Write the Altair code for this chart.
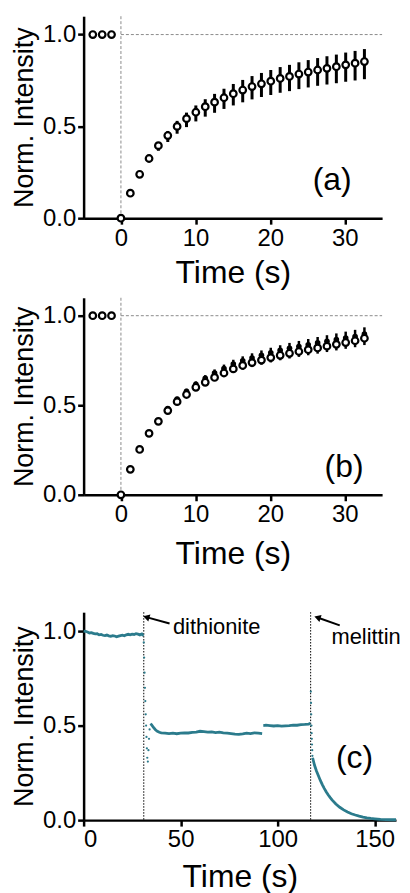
import altair as alt
import pandas as pd

FONT = "Liberation Sans"
TEAL = "#2B7B8C"

# ---------- panels (a) and (b): FRAP recovery ----------
times_ab = [-3.77, -2.51, -1.26, 0.0, 1.26, 2.51, 3.77, 5.02, 6.28, 7.53, 8.79, 10.04,
            11.30, 12.55, 13.81, 15.06, 16.32, 17.57, 18.83, 20.08, 21.34, 22.59,
            23.85, 25.10, 26.36, 27.61, 28.87, 30.12, 31.38, 32.63]

a_vals = [1.0, 1.0, 1.0, 0.0, 0.136, 0.239, 0.325, 0.395, 0.45, 0.50, 0.542, 0.577,
          0.607, 0.632, 0.656, 0.678, 0.698, 0.717, 0.732, 0.746, 0.761, 0.772,
          0.785, 0.796, 0.807, 0.816, 0.825, 0.835, 0.844, 0.853]
a_err_lo = [0, 0, 0, 0, 0.01, 0.012, 0.02, 0.028, 0.035, 0.04, 0.046, 0.05, 0.054,
            0.058, 0.061, 0.064, 0.067, 0.07, 0.072, 0.075, 0.078, 0.08, 0.082,
            0.084, 0.086, 0.088, 0.09, 0.092, 0.094, 0.096]
a_err_hi = [0, 0, 0, 0, 0.01, 0.012, 0.015, 0.02, 0.025, 0.03, 0.033, 0.037, 0.041,
            0.045, 0.049, 0.053, 0.055, 0.057, 0.059, 0.061, 0.062, 0.063, 0.064,
            0.065, 0.065, 0.066, 0.066, 0.067, 0.067, 0.068]

b_open = [1.0, 1.0, 1.0, 0.0, 0.142, 0.253, 0.343, 0.41, 0.47, 0.52, 0.56, 0.60,
          0.628, 0.655, 0.68, 0.703, 0.722, 0.738, 0.752, 0.766, 0.779, 0.79, 0.80,
          0.81, 0.82, 0.83, 0.84, 0.85, 0.86, 0.874]
b_open_err = [0, 0, 0, 0, 0, 0, 0, 0, 0.008, 0.01, 0.012, 0.014, 0.016, 0.018, 0.02,
              0.022, 0.024, 0.025, 0.026, 0.027, 0.028, 0.029, 0.03, 0.031, 0.032,
              0.033, 0.034, 0.035, 0.036, 0.038]
b_fill = [1.0, 1.0, 1.0, 0.0, 0.142, 0.253, 0.343, 0.41, 0.482, 0.535, 0.578, 0.617,
          0.65, 0.68, 0.705, 0.73, 0.748, 0.764, 0.779, 0.793, 0.806, 0.818, 0.828,
          0.838, 0.848, 0.857, 0.866, 0.875, 0.884, 0.897]
b_fill_err = [0, 0, 0, 0, 0, 0, 0, 0, 0.01, 0.012, 0.014, 0.016, 0.018, 0.02, 0.022,
              0.024, 0.025, 0.026, 0.027, 0.028, 0.029, 0.03, 0.031, 0.032, 0.033,
              0.034, 0.035, 0.036, 0.037, 0.038]

# ---------- panel (c): trace ----------
c_seg1_t = [0, 1, 2, 3, 4, 5, 6, 7, 8, 9, 10, 11, 12, 13, 14, 15, 16, 17, 18, 19, 20,
            21, 22, 23, 24, 25, 26, 27, 28, 29, 30, 30.8]
c_seg1_v = [1.0, 0.998, 0.995, 0.99, 0.992, 0.988, 0.985, 0.986, 0.98, 0.982, 0.978,
            0.976, 0.979, 0.975, 0.972, 0.976, 0.974, 0.97, 0.973, 0.976, 0.978, 0.975,
            0.98, 0.983, 0.98, 0.984, 0.982, 0.986, 0.984, 0.98, 0.985, 0.975]
c_seg2_t = [34.4, 35, 36, 37, 38, 39, 40, 42, 44, 46, 48, 50, 52, 54, 56, 58, 60, 62,
            64, 66, 68, 70, 72, 74, 76, 78, 80, 82, 84, 86, 88, 90, 92]
c_seg2_v = [0.51, 0.505, 0.49, 0.478, 0.47, 0.465, 0.462, 0.46, 0.458, 0.46, 0.457,
            0.46, 0.462, 0.461, 0.464, 0.466, 0.47, 0.468, 0.466, 0.467, 0.463, 0.465,
            0.462, 0.46, 0.458, 0.455, 0.454, 0.456, 0.46, 0.458, 0.462, 0.46, 0.458]
c_seg3_t = [92.6, 94, 96, 98, 100, 102, 104, 106, 108, 110, 112, 114, 116, 116.9]
c_seg3_v = [0.5, 0.502, 0.5, 0.498, 0.5, 0.497, 0.499, 0.5, 0.503, 0.502, 0.505,
            0.506, 0.508, 0.512]
c_seg4_t = [118, 118.5, 119, 120, 121, 122, 123, 124, 125, 126, 127, 128, 130, 132,
            134, 136, 138, 140, 142, 144, 146, 148, 150, 153, 156, 159, 161]
c_seg4_v = [0.33, 0.31, 0.29, 0.26, 0.235, 0.21, 0.188, 0.168, 0.15, 0.134, 0.12,
            0.107, 0.085, 0.068, 0.054, 0.043, 0.034, 0.027, 0.021, 0.016, 0.012,
            0.009, 0.007, 0.004, 0.003, 0.002, 0.002]
c_dots_t = [31.0, 31.2, 31.4, 31.6, 31.8, 32.0, 32.2, 32.4, 32.6, 32.8, 33.1, 33.4,
            33.7, 34.0, 117.1, 117.2, 117.3, 117.4, 117.5, 117.6, 117.7, 117.8, 117.9]
c_dots_v = [0.94, 0.86, 0.78, 0.70, 0.63, 0.56, 0.50, 0.44, 0.38, 0.33, 0.31, 0.37,
            0.43, 0.48, 0.68, 0.62, 0.56, 0.50, 0.46, 0.43, 0.40, 0.37, 0.34]
c_events = [31, 117]
annot_labels = ["dithionite", "melittin"]
annot_t = [46, 127.7]
annot_v = [1.02, 0.97]
arrow_tail_t = [44.3, 132.0]
arrow_tail_v = [1.04, 1.03]
arrow_head_t = [32.3, 120.5]
arrow_head_v = [1.074, 1.072]

panel_labels = ["(a)", "(b)", "(c)"]
panel_label_t = [28.3, 29.9, 139.6]
panel_label_v = [0.206, 0.155, 0.33]

# ---------- helpers ----------
def yaxis():
    return alt.Axis(values=[0, 0.5, 1.0], format=".1f", title="Norm. Intensity",
                    titleFontSize=27, titlePadding=4)

def frap_x(xtitle_pad):
    return alt.X("t:Q", scale=alt.Scale(domain=[-5, 35], nice=False, zero=False),
                 axis=alt.Axis(values=[0, 10, 20, 30], title="Time (s)", titleFontSize=32,
                               titlePadding=xtitle_pad))

ysc = alt.Scale(domain=[0, 1.1], nice=False, zero=False)

def guides():
    vline = alt.Chart(pd.DataFrame({"t": [0]})).mark_rule(
        color="#8a8a8a", strokeDash=[3, 2], strokeWidth=1).encode(x="t:Q")
    hline = alt.Chart(pd.DataFrame({"t": [0], "t2": [35], "v": [1.0]})).mark_rule(
        color="#8a8a8a", strokeDash=[3, 2], strokeWidth=1).encode(
        x="t:Q", x2="t2:Q", y="v:Q")
    return vline, hline

# ---------- panel a ----------
dfa = pd.DataFrame({"t": times_ab, "v": a_vals})
dfa["lo"] = [v - e for v, e in zip(a_vals, a_err_lo)]
dfa["hi"] = [v + e for v, e in zip(a_vals, a_err_hi)]
xa = frap_x(8)
va, ha = guides()
a_err = alt.Chart(dfa).mark_rule(color="black", strokeWidth=3).encode(
    x=xa, y=alt.Y("lo:Q", scale=ysc, axis=yaxis()), y2="hi:Q")
a_pts = alt.Chart(dfa).mark_circle(fill="white", stroke="black", strokeWidth=2.2,
                                   size=44, opacity=1).encode(
    x="t:Q", y=alt.Y("v:Q", scale=ysc))
a_lab = alt.Chart(pd.DataFrame({"t": [panel_label_t[0]], "v": [panel_label_v[0]],
                                "s": [panel_labels[0]]})).mark_text(
    font=FONT, fontSize=32, color="black").encode(x="t:Q", y="v:Q", text="s:N")
panel_a = alt.layer(va, ha, a_err, a_pts, a_lab).properties(width=300, height=203)

# ---------- panel b ----------
dfb = pd.DataFrame({"t": times_ab, "vo": b_open, "vf": b_fill})
dfb["olo"] = [v - e for v, e in zip(b_open, b_open_err)]
dfb["fhi"] = [v + e for v, e in zip(b_fill, b_fill_err)]
xb = frap_x(12)
vb, hb = guides()
b_ferr = alt.Chart(dfb).mark_rule(color="black", strokeWidth=2.5).encode(
    x=xb, y=alt.Y("vf:Q", scale=ysc, axis=yaxis()), y2="fhi:Q")
b_fpts = alt.Chart(dfb).mark_circle(color="black", size=32, opacity=1).encode(
    x="t:Q", y=alt.Y("vf:Q", scale=ysc))
b_oerr = alt.Chart(dfb).mark_rule(color="black", strokeWidth=2.5).encode(
    x="t:Q", y=alt.Y("olo:Q", scale=ysc), y2="vo:Q")
b_opts = alt.Chart(dfb).mark_circle(fill="white", stroke="black", strokeWidth=2.2,
                                    size=44, opacity=1).encode(
    x="t:Q", y=alt.Y("vo:Q", scale=ysc))
b_lab = alt.Chart(pd.DataFrame({"t": [panel_label_t[1]], "v": [panel_label_v[1]],
                                "s": [panel_labels[1]]})).mark_text(
    font=FONT, fontSize=32, color="black").encode(x="t:Q", y="v:Q", text="s:N")
panel_b = alt.layer(vb, hb, b_ferr, b_fpts, b_oerr, b_opts, b_lab).properties(
    width=300, height=198)

# ---------- panel c ----------
seg_rows = []
for sid, (ts, vs) in enumerate([(c_seg1_t, c_seg1_v), (c_seg2_t, c_seg2_v),
                                (c_seg3_t, c_seg3_v), (c_seg4_t, c_seg4_v)]):
    for t, v in zip(ts, vs):
        seg_rows.append({"t": t, "v": v, "seg": sid})
dfc = pd.DataFrame(seg_rows)
xc = alt.X("t:Q", scale=alt.Scale(domain=[0, 161], nice=False, zero=False),
           axis=alt.Axis(values=[0, 50, 100, 150], title="Time (s)", titleFontSize=32,
                         titlePadding=10))
c_ev = alt.Chart(pd.DataFrame({"t": c_events})).mark_rule(
    color="black", strokeDash=[1.5, 1.5], strokeWidth=1).encode(x=xc)
c_line = alt.Chart(dfc).mark_line(color=TEAL, strokeWidth=2.8).encode(
    x="t:Q", y=alt.Y("v:Q", scale=ysc, axis=yaxis()), detail="seg:N", order="t:Q")
c_dots = alt.Chart(pd.DataFrame({"t": c_dots_t, "v": c_dots_v})).mark_circle(
    color=TEAL, size=5, opacity=1).encode(x="t:Q", y=alt.Y("v:Q", scale=ysc))
df_arrow = pd.DataFrame({"t": arrow_tail_t, "v": arrow_tail_v,
                         "t2": arrow_head_t, "v2": arrow_head_v})
c_shaft = alt.Chart(df_arrow).mark_rule(color="black", strokeWidth=2).encode(
    x="t:Q", y="v:Q", x2="t2:Q", y2="v2:Q")
c_head = alt.Chart(df_arrow).mark_point(shape="triangle-left", filled=True,
                                        color="black", size=55, angle=17,
                                        opacity=1).encode(x="t2:Q", y="v2:Q")
c_text = alt.Chart(pd.DataFrame({"t": annot_t, "v": annot_v, "s": annot_labels})).mark_text(
    font=FONT, fontSize=22, color="black", align="left", baseline="middle").encode(
    x="t:Q", y="v:Q", text="s:N")
c_lab = alt.Chart(pd.DataFrame({"t": [panel_label_t[2]], "v": [panel_label_v[2]],
                                "s": [panel_labels[2]]})).mark_text(
    font=FONT, fontSize=32, color="black").encode(x="t:Q", y="v:Q", text="s:N")
panel_c = alt.layer(c_ev, c_line, c_dots, c_shaft, c_head, c_text, c_lab).properties(
    width=314, height=209)

top = alt.vconcat(panel_a, panel_b, spacing=8)
chart = alt.vconcat(top, panel_c, spacing=42).properties(
    padding={"left": 2, "top": 5, "right": 0, "bottom": 0},
    background="white"
).configure_view(stroke=None).configure_axis(
    domainColor="black", domainWidth=2.5, tickColor="black", tickWidth=2.5,
    tickSize=6, labelFont=FONT, labelFontSize=24, labelColor="black",
    titleFont=FONT, titleColor="black", titleFontWeight="normal", grid=False,
    labelPadding=2
)

chart.save("out.html", embed_options={"renderer": "svg", "actions": False})
